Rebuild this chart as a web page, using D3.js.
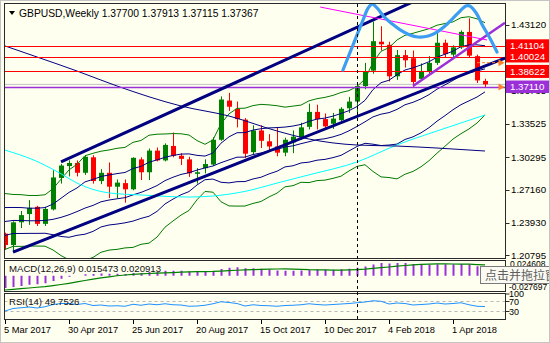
<!DOCTYPE html>
<html><head><meta charset="utf-8">
<script src="https://cdn.jsdelivr.net/npm/d3@7"></script>
<style>
html,body{margin:0;padding:0;background:#fffff0;}
svg{display:block;}
text{font-family:"Liberation Sans",Arial,sans-serif;}
</style></head><body>
<svg id="chart" width="550" height="343"></svg>
<script>
// ---------------- DATA ----------------
const dates = ["2017-03-05","2017-03-12","2017-03-19","2017-03-26","2017-04-02","2017-04-09","2017-04-16","2017-04-23","2017-04-30","2017-05-07","2017-05-14","2017-05-21","2017-05-28","2017-06-04","2017-06-11","2017-06-18","2017-06-25","2017-07-02","2017-07-09","2017-07-16","2017-07-23","2017-07-30","2017-08-06","2017-08-13","2017-08-20","2017-08-27","2017-09-03","2017-09-10","2017-09-17","2017-09-24","2017-10-01","2017-10-08","2017-10-15","2017-10-22","2017-10-29","2017-11-05","2017-11-12","2017-11-19","2017-11-26","2017-12-03","2017-12-10","2017-12-17","2017-12-24","2017-12-31","2018-01-07","2018-01-14","2018-01-21","2018-01-28","2018-02-04","2018-02-11","2018-02-18","2018-02-25","2018-03-04","2018-03-11","2018-03-18","2018-03-25","2018-04-01","2018-04-08","2018-04-15","2018-04-22","2018-04-29"];

const open = [1.2290,1.2180,1.2400,1.2480,1.2550,1.2385,1.2525,1.2830,1.2945,1.2975,
1.2880,1.3030,1.2800,1.2880,1.2745,1.2780,1.2720,1.3010,1.2885,1.3095,
1.3000,1.3140,1.3045,1.3010,1.2870,1.2925,1.2960,1.3200,1.3580,1.3500,
1.3395,1.3080,1.3290,1.3185,1.3135,1.3075,1.3175,1.3225,1.3325,1.3470,
1.3400,1.3355,1.3390,1.3505,1.3570,1.3720,1.3870,1.4150,1.4120,1.3815,
1.4020,1.3990,1.3790,1.3860,1.3945,1.4140,1.4025,1.4095,1.4245,1.4010,1.37700];
const high = [1.2300,1.2410,1.2510,1.2615,1.2560,1.2550,1.2905,1.2965,1.3000,1.3000,
1.3050,1.3050,1.2915,1.2980,1.2815,1.2815,1.3030,1.3030,1.3115,1.3125,
1.3165,1.3270,1.3070,1.3035,1.2925,1.3010,1.3225,1.3620,1.3655,1.3570,
1.3410,1.3340,1.3340,1.3255,1.3320,1.3220,1.3290,1.3365,1.3550,1.3540,
1.3455,1.3460,1.3515,1.3615,1.3745,1.3945,1.4345,1.4300,1.4150,1.4070,
1.4070,1.4065,1.3940,1.4010,1.4245,1.4170,1.4115,1.4260,1.4377,1.4025,1.37913];
const low = [1.2135,1.2110,1.2345,1.2375,1.2365,1.2365,1.2515,1.2775,1.2845,1.2845,
1.2860,1.2775,1.2770,1.2635,1.2635,1.2590,1.2710,1.2810,1.2810,1.2990,
1.2990,1.3030,1.2955,1.2840,1.2775,1.2875,1.2945,1.3190,1.3480,1.3320,
1.3025,1.3060,1.3120,1.3085,1.3040,1.3040,1.3070,1.3200,1.3300,1.3300,
1.3300,1.3305,1.3360,1.3460,1.3460,1.3690,1.3840,1.4065,1.3765,1.3780,
1.3900,1.3712,1.3780,1.3820,1.3925,1.4000,1.3990,1.4080,1.4000,1.3750,1.37115];
const close = [1.2180,1.2400,1.2470,1.2540,1.2385,1.2530,1.2835,1.2950,1.2975,1.2880,
1.3035,1.2800,1.2880,1.2745,1.2785,1.2720,1.3025,1.2885,1.3095,1.3000,
1.3150,1.3045,1.3015,1.2875,1.2885,1.2965,1.3200,1.3590,1.3520,1.3400,
1.3065,1.3290,1.3190,1.3135,1.3075,1.3200,1.3230,1.3320,1.3470,1.3400,
1.3330,1.3405,1.3500,1.3570,1.3720,1.3865,1.4155,1.4125,1.3815,1.4020,
1.3970,1.3760,1.3860,1.3945,1.4140,1.4030,1.4095,1.4245,1.4015,1.3775,1.37367];

// Bollinger bands (20): green = 2 dev, navy = 1 dev
const bb2Upper = [1.2679,1.2670,1.2668,1.2660,1.2660,1.2667,1.2726,1.2818,1.2908,1.2962,
1.3045,1.3069,1.3089,1.3101,1.3117,1.3126,1.3175,1.3193,1.3244,1.3254,
1.3256,1.3260,1.3258,1.3246,1.3192,1.3156,1.3199,1.3356,1.3451,1.3504,
1.3506,1.3531,1.3543,1.3538,1.3530,1.3516,1.3526,1.3536,1.3577,1.3598,
1.3611,1.3630,1.3658,1.3676,1.3716,1.3789,1.3950,1.4057,1.4092,1.4167,
1.4212,1.4232,1.4254,1.4276,1.4310,1.4326,1.4342,1.4383,1.4392,1.4372,1.4334];
const bb1Upper = [1.2543,1.2544,1.2543,1.2537,1.2537,1.2543,1.2577,1.2633,1.2690,1.2733,
1.2792,1.2816,1.2844,1.2859,1.2872,1.2883,1.2921,1.2942,1.2982,1.3005,
1.3030,1.3048,1.3061,1.3063,1.3049,1.3042,1.3072,1.3167,1.3228,1.3268,
1.3269,1.3294,1.3307,1.3315,1.3318,1.3323,1.3333,1.3349,1.3379,1.3400,
1.3410,1.3429,1.3455,1.3482,1.3522,1.3582,1.3686,1.3753,1.3777,1.3830,
1.3876,1.3897,1.3925,1.3956,1.4000,1.4029,1.4058,1.4102,1.4120,1.4120,1.4111];
const bbMiddle = [1.2408,1.2418,1.2418,1.2415,1.2415,1.2418,1.2429,1.2448,1.2473,1.2504,
1.2538,1.2564,1.2599,1.2616,1.2628,1.2639,1.2666,1.2690,1.2721,1.2756,
1.2804,1.2837,1.2864,1.2881,1.2906,1.2927,1.2946,1.2978,1.3005,1.3031,
1.3032,1.3057,1.3072,1.3092,1.3106,1.3130,1.3141,1.3162,1.3181,1.3201,
1.3210,1.3228,1.3252,1.3287,1.3329,1.3374,1.3422,1.3448,1.3463,1.3494,
1.3539,1.3563,1.3596,1.3637,1.3690,1.3732,1.3775,1.3821,1.3848,1.3867,1.3887];
const bb1Lower = [1.2273,1.2292,1.2292,1.2293,1.2293,1.2294,1.2280,1.2263,1.2255,1.2274,
1.2285,1.2312,1.2355,1.2374,1.2383,1.2395,1.2412,1.2438,1.2459,1.2506,
1.2578,1.2625,1.2667,1.2698,1.2762,1.2813,1.2819,1.2788,1.2782,1.2794,
1.2795,1.2820,1.2837,1.2869,1.2895,1.2937,1.2948,1.2975,1.2983,1.3002,
1.3010,1.3027,1.3049,1.3092,1.3135,1.3166,1.3157,1.3144,1.3149,1.3158,
1.3203,1.3228,1.3267,1.3317,1.3380,1.3434,1.3491,1.3540,1.3577,1.3614,1.3664];
const bb2Lower = [1.2137,1.2167,1.2167,1.2170,1.2170,1.2169,1.2132,1.2078,1.2037,1.2045,
1.2032,1.2060,1.2110,1.2131,1.2138,1.2152,1.2157,1.2187,1.2198,1.2257,
1.2353,1.2413,1.2470,1.2515,1.2619,1.2699,1.2692,1.2599,1.2559,1.2557,
1.2558,1.2583,1.2602,1.2646,1.2683,1.2744,1.2755,1.2788,1.2785,1.2804,
1.2809,1.2826,1.2847,1.2898,1.2942,1.2958,1.2893,1.2840,1.2834,1.2821,
1.2866,1.2893,1.2938,1.2997,1.3070,1.3137,1.3207,1.3259,1.3305,1.3362,1.3441];

// slow moving averages (read at sample weeks)
const cyanMaWeeks  = [0,4,7,9,13,17,23,26,30,34,38,44,49,54,60];
const cyanMaValues = [1.3100,1.2990,1.2870,1.2780,1.2685,1.2665,1.2645,1.2655,1.2700,1.2780,1.2860,1.2985,1.3150,1.3285,1.3440];
const navyMaWeeks  = [0,4,9,14,22,28,34,38,44,49,54,60];
const navyMaValues = [1.4109,1.4002,1.3866,1.3721,1.3527,1.3430,1.3285,1.3207,1.3149,1.3139,1.3120,1.3091];

// MACD(12,26,9)
const macdMain = [-0.0239,-0.0221,-0.0199,-0.0174,-0.0165,-0.0144,-0.0102,-0.0059,-0.0022,-0.0000,
0.0029,0.0032,0.0041,0.0037,0.0037,0.0031,0.0050,0.0053,0.0072,0.0078,
0.0094,0.0097,0.0096,0.0083,0.0073,0.0070,0.0086,0.0129,0.0155,0.0164,
0.0143,0.0143,0.0133,0.0119,0.0102,0.0098,0.0096,0.0100,0.0114,0.0119,
0.0115,0.0117,0.0125,0.0135,0.0153,0.0177,0.0218,0.0244,0.0237,0.0246,
0.0246,0.0226,0.0216,0.0212,0.0223,0.0220,0.0220,0.0229,0.0216,0.0184,0.015473];
const macdSignal = [-0.0277,-0.0265,-0.0252,-0.0238,-0.0224,-0.0210,-0.0192,-0.0171,-0.0147,-0.0121,
-0.0093,-0.0067,-0.0043,-0.0021,-0.0001,0.0014,0.0026,0.0034,0.0043,0.0048,
0.0055,0.0061,0.0068,0.0073,0.0078,0.0080,0.0083,0.0090,0.0098,0.0106,
0.0111,0.0116,0.0122,0.0127,0.0130,0.0132,0.0128,0.0122,0.0116,0.0114,
0.0111,0.0109,0.0109,0.0113,0.0119,0.0128,0.0141,0.0156,0.0169,0.0184,
0.0198,0.0209,0.0218,0.0225,0.0230,0.0230,0.0227,0.0226,0.0223,0.0216,0.020913];

// RSI(14)
const rsiValues = [32,42,45,48,44,49,58,62,62,58,
62,54,56,52,53,51,59,55,60,57,
61,57,56,51,52,55,61,69,66,62,
52,57,54,53,51,54,55,57,61,58,
56,58,60,62,65,68,73,71,60,64,
62,56,58,60,64,60,62,65,57,51,49.7526];

// axis ticks
const priceTicks = [1.43120,1.39940,1.36735,1.33525,1.30295,1.27160,1.23930,1.20795];
const priceTickLabels = ["1.43120","1.39940","1.36735","1.33525","1.30295","1.27160","1.23930","1.20795"];
const timeTickDates = ["2017-03-05","2017-04-30","2017-06-25","2017-08-20","2017-10-15","2017-12-10","2018-02-04","2018-04-01"];
const timeTickLabels = ["5 Mar 2017","30 Apr 2017","25 Jun 2017","20 Aug 2017","15 Oct 2017","10 Dec 2017","4 Feb 2018","1 Apr 2018"];
const rsiTickValues = [100,70,30];
const macdAxisLabels = ["0.024608","-0.027697"];

// drawn objects
const redLevels = [1.41104,1.40024,1.38622];
const purpleLevel = 1.37110;
const bidPrice = 1.37367;
const orangeLevel = 1.3947;
const cursorDate = "2018-01-07";
const channelLowerWeeks = [1,62.5],  channelLowerPrices = [1.2112,1.3992];
const channelUpperWeeks = [7,52],    channelUpperPrices = [1.2985,1.4572];
const purpleTrendWeeks = [51,62.5],  purpleTrendPrices = [1.3721,1.4334];
const magentaWeeks = [39.4,60.25],   magentaPrices = [1.4486,1.4167];
const blueCurveWeeks = [42.25,43.5,44.75,45.4,45.9,46.5,47.4,48.4,49.4,50.6,51.6,52.9,54,55,55.9,56.9,57.6,58.1,58.9,59.6,60.6,61.5];
const blueCurvePrices = [1.3876,1.4118,1.4360,1.4477,1.4515,1.4477,1.4390,1.4322,1.4264,1.4215,1.4196,1.4205,1.4244,1.4302,1.4370,1.4448,1.4496,1.4496,1.4428,1.4322,1.4186,1.4050];

// ---------------- DRAW ----------------
const BG = "#fffff0";
const NAVY = "#000080", GREEN = "#007a00", RED = "#ff0000", PURPLE = "#9b30d9";
const svg = d3.select("#chart");
svg.append("rect").attr("width",550).attr("height",343).attr("fill",BG);

const x = d3.scaleLinear().domain([0, dates.length - 1]).range([5, 485]);
const y = d3.scaleLinear().domain([1.20795, 1.43120]).range([255.4, 25]);
const yM = d3.scaleLinear().domain([-0.0277, 0.0246]).range([290, 263]);
const yR = d3.scaleLinear().domain([0, 100]).range([319, 294]);

const L = 4.5, R = 505.5;
const panels = {main:[3.5,258.5], macd:[260.5,291.5], rsi:[293.5,319.5]};
const defs = svg.append("defs");
Object.entries(panels).forEach(([k,[t,b]]) => {
  defs.append("clipPath").attr("id","clip-"+k).append("rect")
    .attr("x",L).attr("y",t).attr("width",R-L).attr("height",b-t);
});

const gMain = svg.append("g").attr("clip-path","url(#clip-main)");
const idx = dates.map((d,i)=>i);

// bid line
gMain.append("line").attr("x1",L).attr("x2",R).attr("y1",y(bidPrice)).attr("y2",y(bidPrice))
  .attr("stroke","#c0c0c0").attr("stroke-width",1);

// candles
const candles = gMain.append("g");
idx.forEach(i => {
  const up = close[i] >= open[i];
  const col = up ? "#008000" : RED;
  const cx = Math.round(x(i));
  candles.append("line").attr("x1",cx+0.5).attr("x2",cx+0.5)
    .attr("y1",y(high[i])).attr("y2",y(low[i])).attr("stroke",col).attr("stroke-width",1);
  const yt = y(Math.max(open[i],close[i])), yb = y(Math.min(open[i],close[i]));
  candles.append("rect").attr("x",cx-2).attr("width",5)
    .attr("y",yt).attr("height",Math.max(1,yb-yt)).attr("fill",col);
});

// indicator lines
const lineIdx = (arr) => d3.line().x((d,i)=>x(i)).y(d=>y(d))(arr);
const linePts = (ws,ps,curve) => d3.line().x(d=>x(d[0])).y(d=>y(d[1])).curve(curve||d3.curveLinear)(ws.map((w,i)=>[w,ps[i]]));
[[bb2Upper,GREEN],[bb2Lower,GREEN],[bb1Upper,NAVY],[bb1Lower,NAVY],[bbMiddle,NAVY]].forEach(([a,c])=>{
  gMain.append("path").attr("d",lineIdx(a)).attr("fill","none").attr("stroke",c).attr("stroke-width",1);
});
gMain.append("path").attr("d",linePts(cyanMaWeeks,cyanMaValues,d3.curveMonotoneX)).attr("fill","none").attr("stroke","#00ffff").attr("stroke-width",1);
gMain.append("path").attr("d",linePts(navyMaWeeks,navyMaValues,d3.curveMonotoneX)).attr("fill","none").attr("stroke",NAVY).attr("stroke-width",1);

// horizontal levels
redLevels.forEach(p=>{
  gMain.append("line").attr("x1",L).attr("x2",R).attr("y1",Math.round(y(p))+0.5).attr("y2",Math.round(y(p))+0.5)
    .attr("stroke",RED).attr("stroke-width",1);
});
gMain.append("line").attr("x1",L).attr("x2",R).attr("y1",Math.round(y(purpleLevel))+0.5).attr("y2",Math.round(y(purpleLevel))+0.5)
  .attr("stroke",PURPLE).attr("stroke-width",1.5);

// trendlines
gMain.append("path").attr("d",linePts(channelLowerWeeks,channelLowerPrices)).attr("stroke",NAVY).attr("stroke-width",3).attr("fill","none");
gMain.append("path").attr("d",linePts(channelUpperWeeks,channelUpperPrices)).attr("stroke",NAVY).attr("stroke-width",3).attr("fill","none");
gMain.append("path").attr("d",linePts(purpleTrendWeeks,purpleTrendPrices)).attr("stroke",PURPLE).attr("stroke-width",2.5).attr("fill","none");
gMain.append("path").attr("d",linePts(magentaWeeks,magentaPrices)).attr("stroke","#ff00ff").attr("stroke-width",1).attr("fill","none");
gMain.append("path").attr("d",linePts(blueCurveWeeks,blueCurvePrices,d3.curveCatmullRom)).attr("stroke","#3d9df2").attr("stroke-width",3.2)
  .attr("fill","none").attr("stroke-linecap","round").attr("stroke-linejoin","round");

// orange order line + arrows
gMain.append("line").attr("x1",x(59)).attr("x2",R-3).attr("y1",y(orangeLevel)).attr("y2",y(orangeLevel))
  .attr("stroke","#ff7f27").attr("stroke-width",1).attr("stroke-dasharray","3,2");
[orangeLevel, purpleLevel].forEach(p=>{
  const yy = y(p);
  gMain.append("path").attr("d",`M${R-7},${yy-3.5}L${R-1},${yy}L${R-7},${yy+3.5}Z`).attr("fill","#ff7f27");
});

// ---------- MACD panel ----------
const gMacd = svg.append("g").attr("clip-path","url(#clip-macd)");
idx.forEach(i=>{
  gMacd.append("line").attr("x1",Math.round(x(i))+0.5).attr("x2",Math.round(x(i))+0.5)
    .attr("y1",yM(0)).attr("y2",yM(macdMain[i])).attr("stroke",PURPLE).attr("stroke-width",2);
});
gMacd.append("path").attr("d",d3.line().x((d,i)=>x(i)).y(d=>yM(d))(macdSignal))
  .attr("fill","none").attr("stroke","#008000").attr("stroke-width",1.2);

// ---------- RSI panel ----------
const gRsi = svg.append("g").attr("clip-path","url(#clip-rsi)");
[70,30].forEach(v=>{
  gRsi.append("line").attr("x1",L).attr("x2",R).attr("y1",yR(v)).attr("y2",yR(v))
    .attr("stroke","#b8b8b8").attr("stroke-dasharray","3,3").attr("stroke-width",1);
});
gRsi.append("path").attr("d",d3.line().x((d,i)=>x(i)).y(d=>yR(d))(rsiValues))
  .attr("fill","none").attr("stroke","#1e90ff").attr("stroke-width",1);

// panel frames
Object.values(panels).forEach(([t,b])=>{
  svg.append("rect").attr("x",L).attr("y",t).attr("width",R-L).attr("height",b-t)
    .attr("fill","none").attr("stroke","#2a2a2a").attr("stroke-width",1);
});

// cursor dashed line
const cx0 = Math.round(x(dates.indexOf(cursorDate)))+0.5;
svg.append("line").attr("x1",cx0).attr("x2",cx0).attr("y1",4).attr("y2",319)
  .attr("stroke","#000").attr("stroke-width",1).attr("stroke-dasharray","3,3");

// title
svg.append("path").attr("d","M9,11L15,11L12,15Z").attr("fill","#000");
svg.append("text").attr("x",19).attr("y",16.5).attr("font-size","10.3px").attr("fill","#000")
  .text("GBPUSD,Weekly  1.37700 1.37913 1.37115 1.37367");

// price axis
priceTicks.forEach((p,i)=>{
  const yy = Math.round(y(p))+0.5;
  svg.append("line").attr("x1",R).attr("x2",R+4).attr("y1",yy).attr("y2",yy).attr("stroke","#2a2a2a");
  svg.append("text").attr("x",511).attr("y",y(p)+3.4).attr("font-size","9.7px").attr("fill","#000").text(priceTickLabels[i]);
});
// level boxes
function box(y0,y1,fill){ svg.append("rect").attr("x",506).attr("y",y0).attr("width",43).attr("height",y1-y0).attr("fill",fill); }
box(y(redLevels[0])-6.5, y(redLevels[1])+5.5, RED);
box(y(redLevels[2])-6.5, y(redLevels[2])+6.5, RED);
box(y(purpleLevel)-6.5, y(purpleLevel)+6, PURPLE);
[redLevels[0],redLevels[1],redLevels[2],purpleLevel].forEach(p=>{
  svg.append("text").attr("x",510).attr("y",y(p)+3.4).attr("font-size","9.7px").attr("fill","#fff").text(p.toFixed(5));
});

// MACD legend + axis
svg.append("text").attr("x",9).attr("y",272).attr("font-size","9.6px").attr("fill","#111")
  .text("MACD(12,26,9) 0.015473 0.020913");
svg.append("text").attr("x",510).attr("y",267).attr("font-size","8.5px").attr("fill","#000").text(macdAxisLabels[0]);
svg.append("text").attr("x",509).attr("y",289.5).attr("font-size","8.5px").attr("fill","#000").text(macdAxisLabels[1]);

// RSI legend + axis
svg.append("text").attr("x",9).attr("y",305).attr("font-size","9.6px").attr("fill","#111").text("RSI(14) 49.7526");
rsiTickValues.forEach(v=>{
  svg.append("line").attr("x1",R).attr("x2",R+4).attr("y1",yR(v)).attr("y2",yR(v)).attr("stroke","#2a2a2a");
  svg.append("text").attr("x",509).attr("y",yR(v)+3.3).attr("font-size","9px").attr("fill","#000").text(String(v));
});

// time axis
timeTickDates.forEach((d,i)=>{
  const xx = Math.round(x(dates.indexOf(d)))+0.5;
  svg.append("line").attr("x1",xx).attr("x2",xx).attr("y1",320).attr("y2",324).attr("stroke","#000");
  svg.append("text").attr("x",xx-1.5).attr("y",333).attr("font-size","9.3px").attr("fill","#000").text(timeTickLabels[i]);
});

// tooltip
svg.append("rect").attr("x",480.5).attr("y",266.5).attr("width",80).attr("height",17)
  .attr("fill","#fafaf2").attr("stroke","#7a7a7a");
svg.append("text").attr("x",485).attr("y",279.5).attr("font-size","12px").attr("fill","#5e5e5e")
  .style("font-family","'Noto Sans CJK SC',sans-serif").text("点击并拖拉窗口");

// outer frame
svg.append("rect").attr("x",0.5).attr("y",0.5).attr("width",549).attr("height",342)
  .attr("fill","none").attr("stroke","#c4c4c4");
</script>
</body></html>
